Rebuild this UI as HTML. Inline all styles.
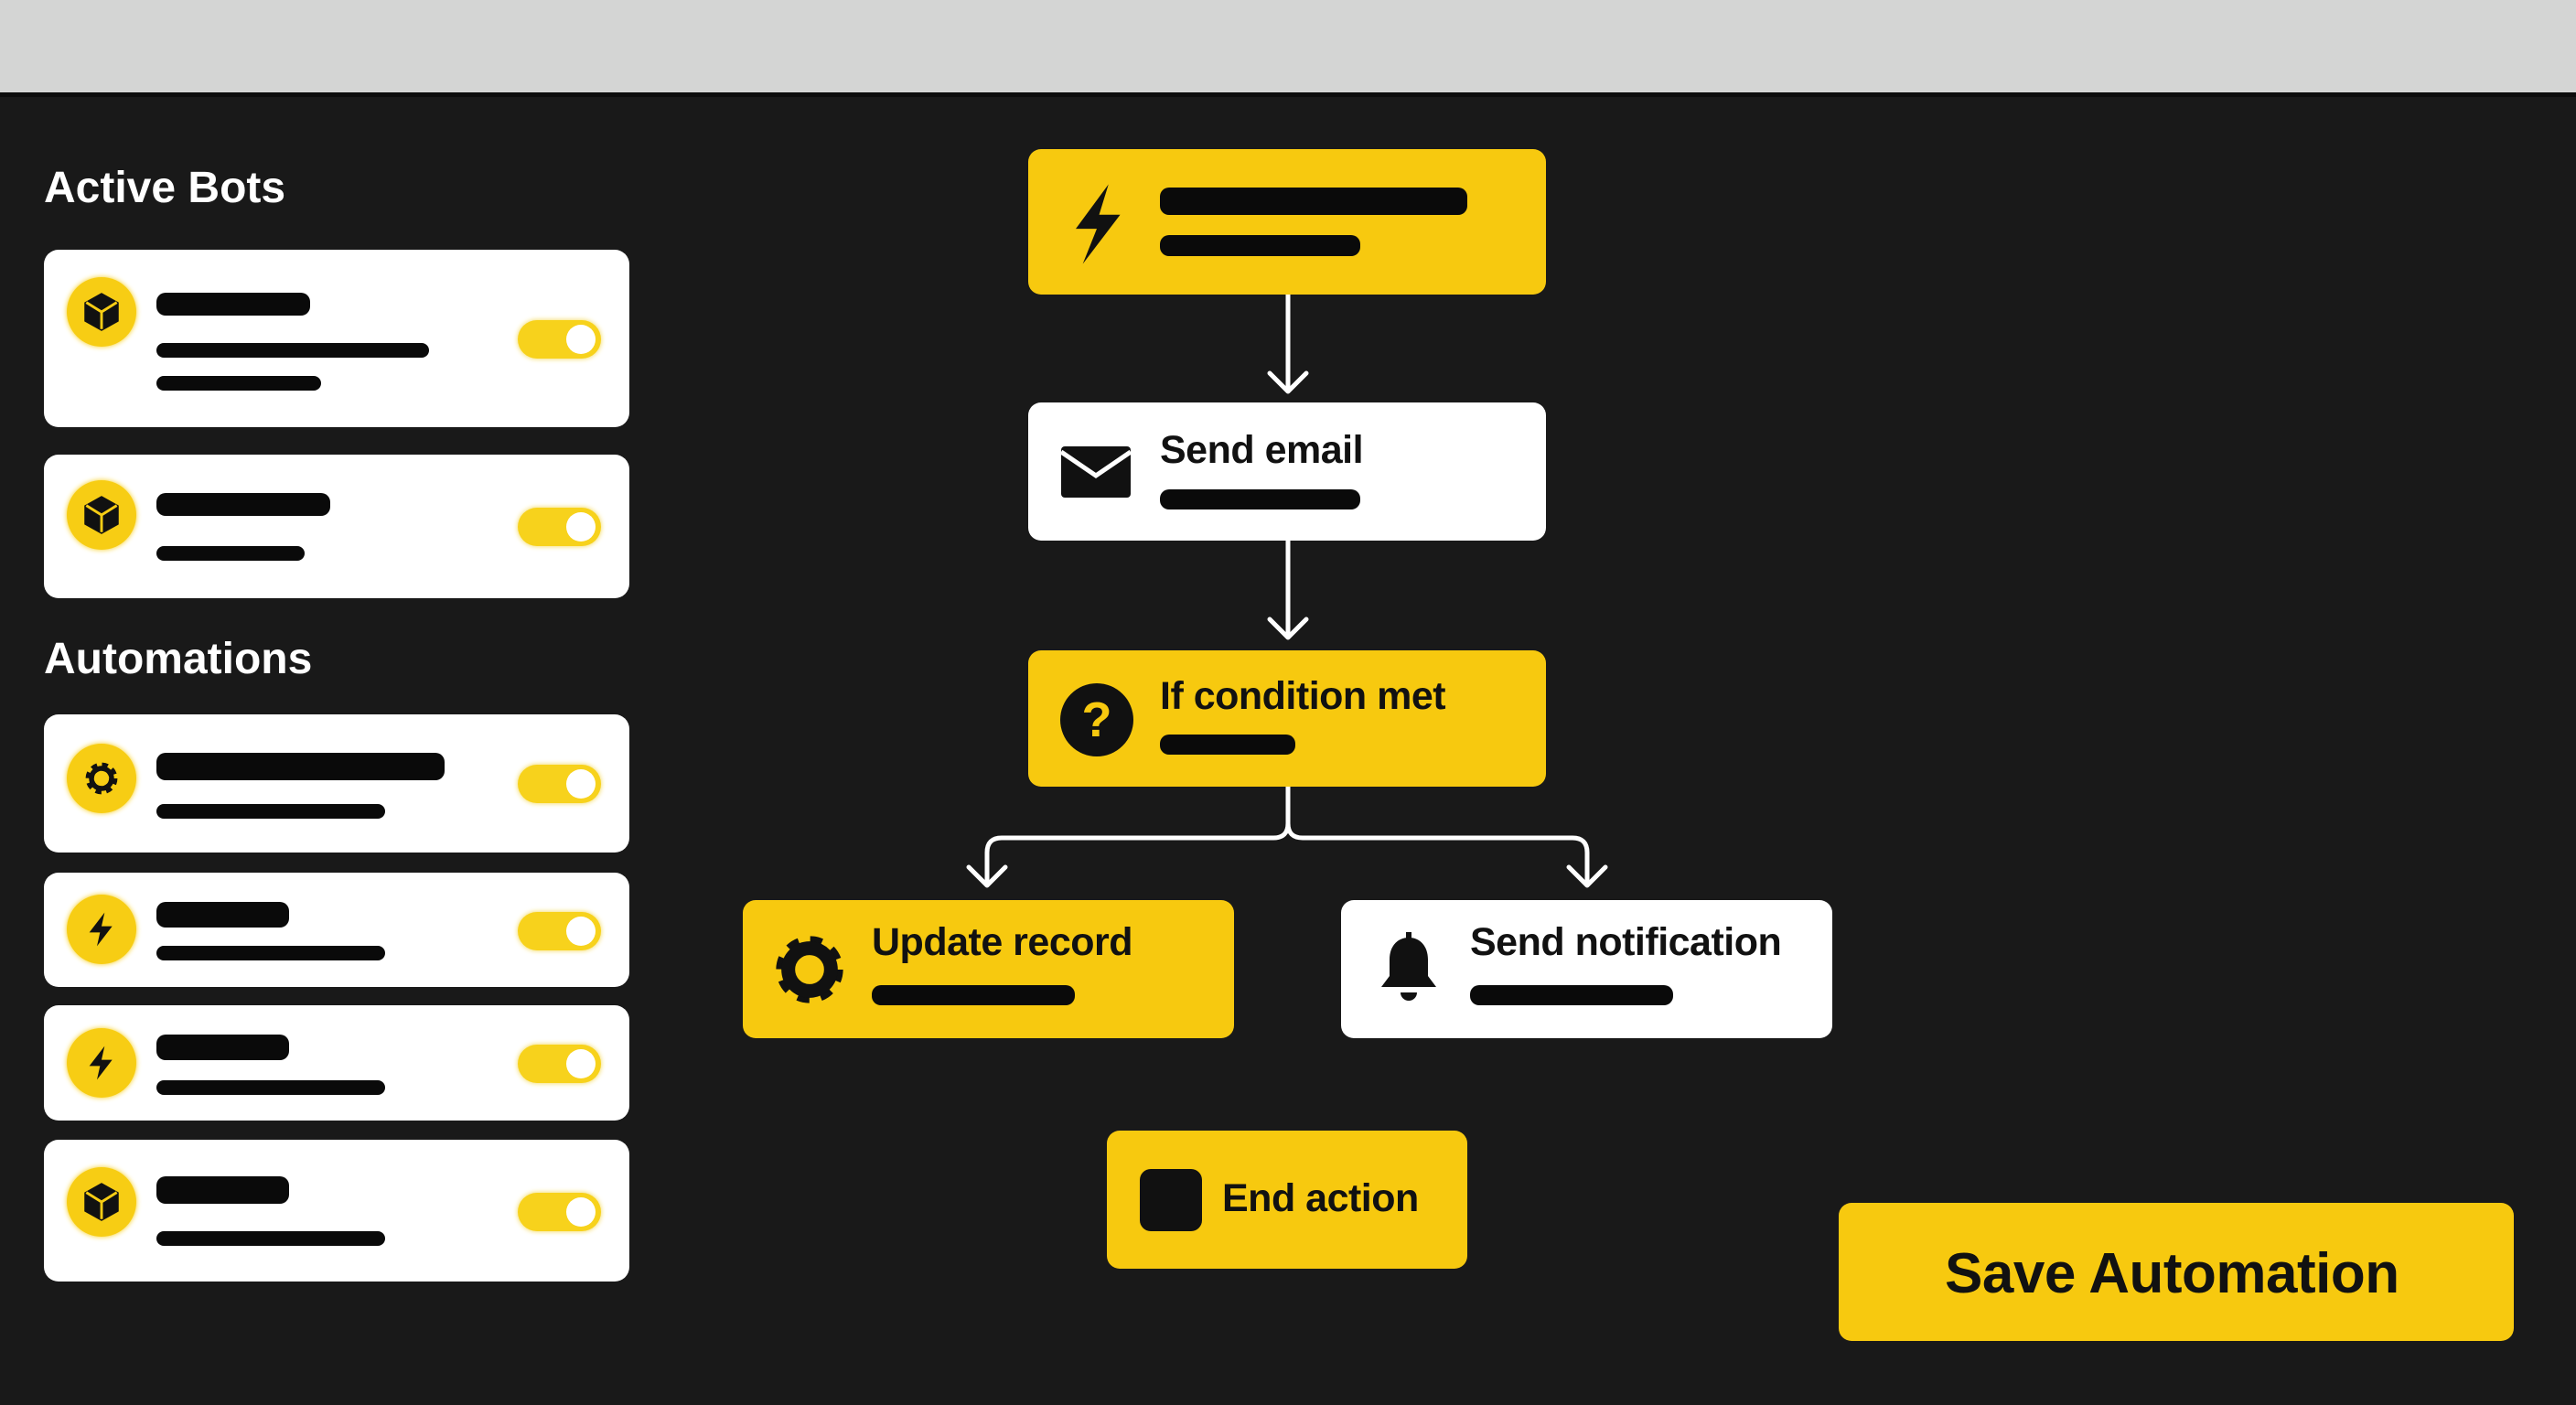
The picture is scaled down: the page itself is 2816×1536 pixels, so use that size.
<!DOCTYPE html>
<html><head><meta charset="utf-8"><style>
*{margin:0;padding:0;box-sizing:border-box}
body{width:2816px;height:1536px;background:#191919;position:relative;overflow:hidden;font-family:"Liberation Sans",sans-serif}
.top{position:absolute;left:0;top:0;width:2816px;height:106px;background:#d4d5d4;border-bottom:5px solid #0c0c0c}
.h{position:absolute;color:#fff;font-weight:bold;font-size:48px;left:48px}
.card{position:absolute;left:48px;width:640px;background:#fff;border-radius:16px}
.ic{position:absolute;left:25px;width:76px;height:76px;border-radius:50%;background:#f7cd14;box-shadow:0 0 6px #f7cd14;display:flex;align-items:center;justify-content:center}
.bar{position:absolute;background:#0a0a0a;border-radius:10px}
.tg{position:absolute;left:566px;width:91px;height:42px;border-radius:21px;background:#f7d21c;box-shadow:0 0 6px #f2d64a}
.tg:after{content:"";position:absolute;right:6px;top:5px;width:32px;height:32px;border-radius:50%;background:#fff}
.n{position:absolute;border-radius:14px}
.y{background:#f7c90f}.w{background:#fff}
.t{position:absolute;font-weight:bold;font-size:43px;color:#111;white-space:nowrap;letter-spacing:-0.5px}
</style></head><body>
<div class="top"></div>
<div class="h" style="top:178px">Active Bots</div>
<div class="h" style="top:693px">Automations</div>

<div class="card" style="top:273px;height:194px">
 <div class="ic" style="top:30px"><svg width="50" height="50" viewBox="0 0 24 24"><path d="M12 2 21 7v10l-9 5-9-5V7z" fill="#111"/><path d="M12 12 4 7M12 12l8-5M12 12v9" stroke="#f7cd14" stroke-width="1.4" fill="none"/></svg></div>
 <div class="bar" style="left:123px;top:47px;width:168px;height:25px"></div>
 <div class="bar" style="left:123px;top:102px;width:298px;height:16px"></div>
 <div class="bar" style="left:123px;top:138px;width:180px;height:16px"></div>
 <div class="tg" style="top:77px;left:518px"></div>
</div>
<div class="card" style="top:497px;height:157px">
 <div class="ic" style="top:28px"><svg width="50" height="50" viewBox="0 0 24 24"><path d="M12 2 21 7v10l-9 5-9-5V7z" fill="#111"/><path d="M12 12 4 7M12 12l8-5M12 12v9" stroke="#f7cd14" stroke-width="1.4" fill="none"/></svg></div>
 <div class="bar" style="left:123px;top:42px;width:190px;height:25px"></div>
 <div class="bar" style="left:123px;top:100px;width:162px;height:16px"></div>
 <div class="tg" style="top:58px;left:518px"></div>
</div>
<div class="card" style="top:781px;height:151px">
 <div class="ic" style="top:32px"><svg width="44" height="44" viewBox="0 0 24 24"><circle cx="12" cy="12" r="7" fill="none" stroke="#111" stroke-width="5" stroke-dasharray="3 2.5"/><circle cx="12" cy="12" r="6" fill="none" stroke="#111" stroke-width="3"/></svg></div>
 <div class="bar" style="left:123px;top:42px;width:315px;height:30px"></div>
 <div class="bar" style="left:123px;top:98px;width:250px;height:16px"></div>
 <div class="tg" style="top:55px;left:518px"></div>
</div>
<div class="card" style="top:954px;height:125px">
 <div class="ic" style="top:24px"><svg width="40" height="40" viewBox="0 0 24 24"><path d="M14 1 4 14h7l-2 9 10-13h-7z" fill="#111"/></svg></div>
 <div class="bar" style="left:123px;top:32px;width:145px;height:28px"></div>
 <div class="bar" style="left:123px;top:80px;width:250px;height:16px"></div>
 <div class="tg" style="top:43px;left:518px"></div>
</div>
<div class="card" style="top:1099px;height:126px">
 <div class="ic" style="top:25px"><svg width="40" height="40" viewBox="0 0 24 24"><path d="M14 1 4 14h7l-2 9 10-13h-7z" fill="#111"/></svg></div>
 <div class="bar" style="left:123px;top:32px;width:145px;height:28px"></div>
 <div class="bar" style="left:123px;top:82px;width:250px;height:16px"></div>
 <div class="tg" style="top:43px;left:518px"></div>
</div>
<div class="card" style="top:1246px;height:155px">
 <div class="ic" style="top:30px"><svg width="50" height="50" viewBox="0 0 24 24"><path d="M12 2 21 7v10l-9 5-9-5V7z" fill="#111"/><path d="M12 12 4 7M12 12l8-5M12 12v9" stroke="#f7cd14" stroke-width="1.4" fill="none"/></svg></div>
 <div class="bar" style="left:123px;top:40px;width:145px;height:30px"></div>
 <div class="bar" style="left:123px;top:100px;width:250px;height:16px"></div>
 <div class="tg" style="top:58px;left:518px"></div>
</div>

<svg style="position:absolute;left:0;top:0" width="2816" height="1536">
 <g stroke="#fff" stroke-width="5" fill="none" stroke-linecap="round" stroke-linejoin="round">
  <path d="M1408 322V428M1388 408l20 20 20-20"/>
  <path d="M1408 591V697M1388 677l20 20 20-20"/>
  <path d="M1408 860V900q0 16-16 16H1095q-16 0-16 16V968M1059 948l20 20 20-20"/>
  <path d="M1408 900q0 16 16 16H1719q16 0 16 16V968M1715 948l20 20 20-20"/>
 </g>
 <path d="M2703 1384q6 34 40 40q-34 6-40 40q-6-34-40-40q34-6 40-40z" fill="#f3ecd0" opacity=".85"/>
</svg>

<div class="n y" style="left:1124px;top:163px;width:566px;height:159px">
 <svg style="position:absolute;left:44px;top:36px" width="62" height="92" viewBox="0 0 24 36"><path d="M17 1 3 20h9l-6 15 16-21h-9z" fill="#111"/></svg>
 <div class="bar" style="left:144px;top:42px;width:336px;height:30px"></div>
 <div class="bar" style="left:144px;top:94px;width:219px;height:23px"></div>
</div>
<div class="n w" style="left:1124px;top:440px;width:566px;height:151px">
 <svg style="position:absolute;left:34px;top:46px" width="80" height="60" viewBox="0 0 40 30"><rect x="1" y="1" width="38" height="28" rx="2" fill="#111"/><path d="M1 4l19 13 19-13" stroke="#fff" stroke-width="2.5" fill="none"/></svg>
 <div class="t" style="left:144px;top:28px">Send email</div>
 <div class="bar" style="left:144px;top:95px;width:219px;height:22px"></div>
</div>
<div class="n y" style="left:1124px;top:711px;width:566px;height:149px">
 <div style="position:absolute;left:35px;top:36px;width:80px;height:80px;border-radius:50%;background:#111;color:#f7c90f;font-weight:bold;font-size:54px;text-align:center;line-height:80px">?</div>
 <div class="t" style="left:144px;top:26px">If condition met</div>
 <div class="bar" style="left:144px;top:92px;width:148px;height:22px"></div>
</div>
<div class="n y" style="left:812px;top:984px;width:537px;height:151px">
 <svg style="position:absolute;left:33px;top:36px" width="80" height="80" viewBox="0 0 24 24"><circle cx="12" cy="12" r="8" fill="none" stroke="#111" stroke-width="6" stroke-dasharray="3.2 3.1"/><circle cx="12" cy="12" r="7" fill="none" stroke="#111" stroke-width="4.5"/></svg>
 <div class="t" style="left:141px;top:22px">Update record</div>
 <div class="bar" style="left:141px;top:93px;width:222px;height:22px"></div>
</div>
<div class="n w" style="left:1466px;top:984px;width:537px;height:151px">
 <svg style="position:absolute;left:38px;top:34px" width="72" height="80" viewBox="0 0 24 26"><path d="M12 2c-4 0-7 3-7 8v6l-3 4h20l-3-4v-6c0-5-3-8-7-8z" fill="#111"/><path d="M9 22a3 3 0 0 0 6 0z" fill="#111"/><rect x="11" y="0" width="2" height="3" fill="#111"/></svg>
 <div class="t" style="left:141px;top:22px">Send notification</div>
 <div class="bar" style="left:141px;top:93px;width:222px;height:22px"></div>
</div>
<div class="n y" style="left:1210px;top:1236px;width:394px;height:151px">
 <div style="position:absolute;left:36px;top:42px;width:68px;height:68px;border-radius:12px;background:#111"></div>
 <div class="t" style="left:126px;top:50px">End action</div>
</div>
<div class="n y" style="left:2010px;top:1315px;width:738px;height:151px">
 <div class="t" style="left:116px;top:42px;font-size:62px">Save Automation</div>
</div>
</body></html>
